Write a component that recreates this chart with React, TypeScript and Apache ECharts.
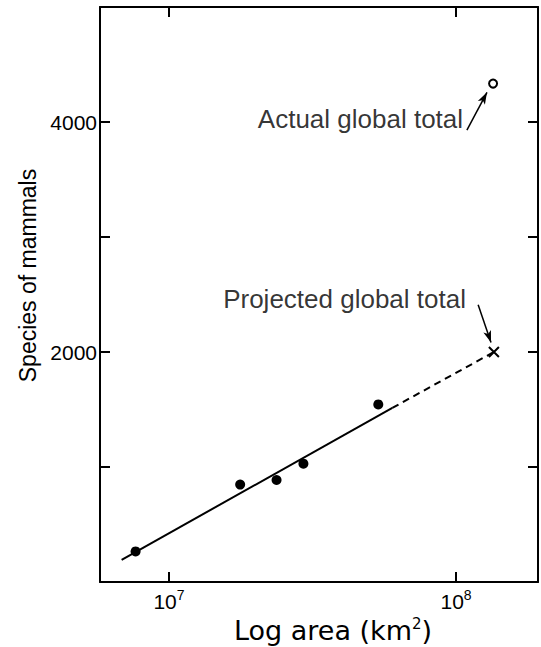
import React, { useEffect, useRef } from "react";
import * as echarts from "echarts";

// Axis ranges
const X_MIN = 5.75e6;
const X_MAX = 1.93e8;
const Y_MIN = 0;
const Y_MAX = 5000;
const Y_INTERVAL = 1000;
const Y_LABELED_TICKS = [2000, 4000];

// Observed regions: area (km^2) and species of mammals
const AREA = [7.65e6, 1.77e7, 2.37e7, 2.94e7, 5.36e7];
const SPECIES = [266, 847, 887, 1029, 1544];

// Fitted line: solid part and dashed extrapolation
const FIT_SOLID_X = [6.84e6, 6.0e7];
const FIT_SOLID_Y = [193, 1514];
const FIT_DASH_X = [6.0e7, 1.355e8];
const FIT_DASH_Y = [1514, 2000];

// Global totals
const ACTUAL_TOTAL = [1.346e8, 4334];
const PROJECTED_TOTAL = [1.355e8, 2000];

// Annotations: label text, anchor (right end of text) and arrow from/to
const NOTE_TEXTS = ["Actual global total", "Projected global total"];
const NOTE_ANCHORS = [
  [1.058e8, 4025],
  [1.083e8, 2463],
];
const ARROW_FROM = [
  [1.091e8, 3929],
  [1.194e8, 2411],
];
const ARROW_TO = [
  [1.282e8, 4258],
  [1.324e8, 2082],
];

const FONT_A = "Liberation Sans";
const FONT_B = "DejaVu Sans";

export default function App() {
  const ref = useRef<HTMLDivElement>(null);
  useEffect(() => {
    if (!ref.current) return;
    const chart = echarts.init(ref.current, null, { renderer: "svg" });
    const axisLine = () => ({ show: true, onZero: false, lineStyle: { color: "#000", width: 2 } });
    const tick = () => ({ show: true, inside: true, length: 10, lineStyle: { color: "#000", width: 2 } });
    const zip = (a: number[], b: number[]) => a.map((v, i) => [v, b[i]]);
    chart.setOption({
      animation: false,
      backgroundColor: "#fff",
      grid: { left: 100, top: 7, right: 3, bottom: 65, containLabel: false, outerBoundsMode: "none" },
      xAxis: [
        {
          type: "log",
          logBase: 10,
          min: X_MIN,
          max: X_MAX,
          position: "bottom",
          axisLine: axisLine(),
          axisTick: tick(),
          splitLine: { show: false },
          minorTick: { show: false },
          axisLabel: {
            margin: 6,
            fontFamily: FONT_A,
            fontSize: 21,
            color: "#000",
            verticalAlign: "top",
            formatter: (v: number) => {
              const e = Math.log10(v);
              if (Math.abs(e - Math.round(e)) > 1e-6) return "";
              return "10{s|" + Math.round(e) + "}";
            },
            rich: {
              s: { fontFamily: FONT_A, fontSize: 14, color: "#000", padding: [0, 0, 12, 0] },
            },
          },
          name: "Log area (km{s|2})",
          nameLocation: "middle",
          nameGap: 33,
          nameTextStyle: {
            fontFamily: FONT_B,
            fontSize: 27,
            color: "#000",
            padding: [0, 0, 0, 28],
            rich: {
              s: { fontFamily: FONT_B, fontSize: 15, color: "#000", padding: [0, 0, 13, 0] },
            },
          },
        },
        {
          type: "log",
          logBase: 10,
          min: X_MIN,
          max: X_MAX,
          position: "top",
          axisLine: axisLine(),
          axisTick: tick(),
          axisLabel: { show: false },
          splitLine: { show: false },
        },
      ],
      yAxis: [
        {
          type: "value",
          min: Y_MIN,
          max: Y_MAX,
          interval: Y_INTERVAL,
          position: "left",
          axisLine: axisLine(),
          axisTick: tick(),
          splitLine: { show: false },
          axisLabel: {
            margin: 3,
            fontFamily: FONT_A,
            fontSize: 21,
            color: "#000",
            formatter: (v: number) => (Y_LABELED_TICKS.includes(v) ? String(v) : ""),
          },
          name: "Species of mammals",
          nameLocation: "middle",
          nameGap: 60,
          nameTextStyle: { fontFamily: FONT_A, fontSize: 23, color: "#000", padding: [0, 0, 0, 38] },
        },
        {
          type: "value",
          min: Y_MIN,
          max: Y_MAX,
          interval: Y_INTERVAL,
          position: "right",
          axisLine: axisLine(),
          axisTick: tick(),
          axisLabel: { show: false },
          splitLine: { show: false },
        },
      ],
      series: [
        {
          name: "fit",
          type: "line",
          data: zip(FIT_SOLID_X, FIT_SOLID_Y),
          symbol: "none",
          lineStyle: { color: "#000", width: 2 },
        },
        {
          name: "extrapolation",
          type: "line",
          data: zip(FIT_DASH_X, FIT_DASH_Y),
          symbol: "none",
          lineStyle: { color: "#000", width: 2, type: [7, 5] },
        },
        {
          name: "regions",
          type: "scatter",
          data: zip(AREA, SPECIES),
          symbol: "circle",
          symbolSize: 10,
          itemStyle: { color: "#000", opacity: 1 },
        },
        {
          name: "actual",
          type: "scatter",
          data: [ACTUAL_TOTAL],
          symbol: "circle",
          symbolSize: 8,
          itemStyle: { color: "#fff", borderColor: "#000", borderWidth: 2, opacity: 1 },
        },
        {
          name: "projected",
          type: "scatter",
          data: [PROJECTED_TOTAL],
          symbol: "path://M0,0L10,10M10,0L0,10",
          symbolSize: 10,
          itemStyle: { color: "none", borderColor: "#000", borderWidth: 2, opacity: 1 },
        },
        {
          name: "notes",
          type: "scatter",
          data: NOTE_ANCHORS.map((p, i) => ({ value: p, name: NOTE_TEXTS[i] })),
          symbolSize: 0,
          itemStyle: { color: "transparent" },
          label: {
            show: true,
            position: "left",
            distance: 0,
            formatter: (p: any) => p.name,
            fontFamily: FONT_A,
            fontSize: 26,
            color: "#000",
          },
          markLine: {
            silent: true,
            symbol: ["none", "arrow"],
            symbolSize: [6, 12],
            label: { show: false },
            lineStyle: { color: "#000", width: 1.5, type: "solid" },
            data: ARROW_FROM.map((f, i) => [{ coord: f }, { coord: ARROW_TO[i] }]),
          },
        },
      ],
    });
    return () => chart.dispose();
  }, []);
  return <div ref={ref} style={{ width: 541, height: 647, position: "absolute", left: 0, top: 0 }} />;
}
